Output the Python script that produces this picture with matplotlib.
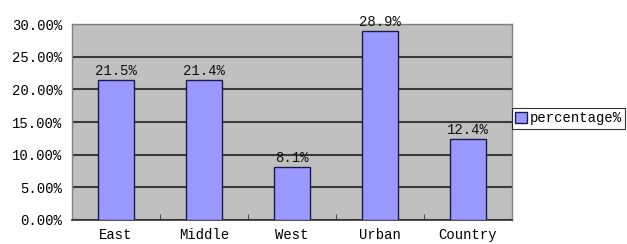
import matplotlib
matplotlib.use("Agg")
from matplotlib import pyplot as plt
from matplotlib.ticker import FuncFormatter

categories = ["East", "Middle", "West", "Urban", "Country"]
values = [21.5, 21.4, 8.1, 28.9, 12.4]
series_name = "percentage%"

plt.rcParams['font.family'] = ['Liberation Mono', 'DejaVu Sans Mono']

fig = plt.figure(figsize=(6.27, 2.44), dpi=100)
ax = fig.add_axes([0.1148, 0.0984, 0.7018, 0.8032])
ax.set_facecolor("#c0c0c0")

x = list(range(len(categories)))
bars = ax.bar(x, values, width=0.4, color="#9999ff", edgecolor="#1a1a50",
              linewidth=1.0, zorder=3, label=series_name)
for xi, v in zip(x, values):
    ax.text(xi, v + 0.3, "%.1f%%" % v, ha="center", va="bottom", fontsize=10, color="#111111")

ax.set_xlim(-0.5, len(categories) - 0.5)
ax.set_ylim(0, 30)
ax.set_yticks([0, 5, 10, 15, 20, 25, 30])
ax.yaxis.set_major_formatter(FuncFormatter(lambda v, p: "%.2f%%" % v))
ax.grid(axis="y", color="#3a3a3a", linewidth=1.5, zorder=1)
ax.set_axisbelow(True)

ax.set_xticks(x)
ax.set_xticklabels(categories)
ax.set_xticks([i + 0.5 for i in range(len(categories) - 1)], minor=True)
ax.tick_params(axis="x", which="major", length=0, pad=6, labelsize=10)
ax.tick_params(axis="x", which="minor", length=4, direction="in", color="#333333")
ax.tick_params(axis="y", length=0, pad=7, labelsize=10)

for s in ["top", "right", "left"]:
    ax.spines[s].set_color("#808080")
    ax.spines[s].set_linewidth(1.0)
ax.spines["bottom"].set_color("#333333")
ax.spines["bottom"].set_linewidth(1.2)

leg = ax.legend(loc="center left", bbox_to_anchor=(1.0, 0.52), fontsize=10,
                frameon=True, fancybox=False, handlelength=0.8, handleheight=0.8,
                handletextpad=0.2, borderpad=0.25, borderaxespad=0.0)
leg.get_frame().set_edgecolor("#000000")
leg.get_frame().set_linewidth(0.8)

fig.savefig("out.png", dpi=100)
